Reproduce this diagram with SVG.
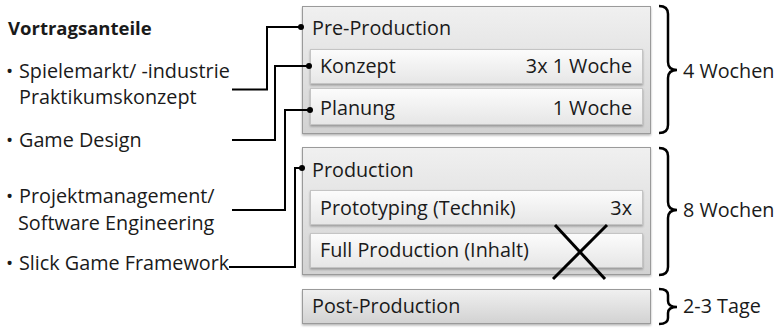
<svg xmlns="http://www.w3.org/2000/svg" width="781" height="328" viewBox="0 0 781 328">
<style>
text{font-family:"Open Sans","Liberation Sans",sans-serif;font-size:19.8px;fill:#1a1a1a}
.b{font-weight:bold;font-size:18.5px}
.bul{font-size:19px}
.outer{fill:url(#gOuter);stroke:#9a9a9a;stroke-width:1}
.inner{fill:url(#gInner);stroke:#c4c4c4;stroke-width:1}
.conn{fill:none;stroke:#000;stroke-width:2}
.br{fill:none;stroke:#000;stroke-width:2.5}
.x{stroke:#000;stroke-width:3}
</style>
<defs>
<linearGradient id="gOuter" x1="0" y1="0" x2="0" y2="1">
<stop offset="0" stop-color="#f0f0f0"/><stop offset="1" stop-color="#d2d2d2"/>
</linearGradient>
<linearGradient id="gInner" x1="0" y1="0" x2="0" y2="1">
<stop offset="0" stop-color="#fcfcfc"/><stop offset="1" stop-color="#e6e6e6"/>
</linearGradient>
<filter id="sh" x="-5%" y="-10%" width="110%" height="130%">
<feDropShadow dx="0" dy="1.5" stdDeviation="1.2" flood-color="#000" flood-opacity="0.3"/>
</filter>
</defs>

<g id="legend">
<text class="b" x="8" y="35">Vortragsanteile</text>
<text class="bul" x="6" y="78">•</text><text x="19" y="78">Spielemarkt/ -industrie</text>
<text x="19" y="104">Praktikumskonzept</text>
<text class="bul" x="6" y="147">•</text><text x="19" y="147">Game Design</text>
<text class="bul" x="6" y="203">•</text><text x="19" y="203">Projektmanagement/</text>
<text x="18" y="230">Software Engineering</text>
<text class="bul" x="6" y="270">•</text><text x="19" y="270">Slick Game Framework</text>
</g>

<g id="pre-production">
<rect class="outer" x="302.5" y="6.5" width="348" height="127" filter="url(#sh)"/>
<text x="312" y="35">Pre-Production</text>
</g>
<g id="konzept">
<rect class="inner" x="310.5" y="49.5" width="332" height="34" filter="url(#sh)"/>
<text x="320" y="73">Konzept</text>
<text x="632" y="73" text-anchor="end">3x 1 Woche</text>
</g>
<g id="planung">
<rect class="inner" x="310.5" y="88.5" width="332" height="36" filter="url(#sh)"/>
<text x="320" y="115">Planung</text>
<text x="632" y="115" text-anchor="end">1 Woche</text>
</g>

<g id="production">
<rect class="outer" x="302.5" y="147.5" width="348" height="127" filter="url(#sh)"/>
<text x="312" y="177">Production</text>
</g>
<g id="prototyping">
<rect class="inner" x="310.5" y="190.5" width="332" height="34" filter="url(#sh)"/>
<text x="320" y="215">Prototyping (Technik)</text>
<text x="632" y="215" text-anchor="end">3x</text>
</g>
<g id="full-production">
<rect class="inner" x="310.5" y="233.5" width="332" height="34" filter="url(#sh)"/>
<text x="320" y="257">Full Production (Inhalt)</text>
</g>

<g id="post-production">
<rect class="outer" x="302.5" y="289.5" width="348" height="34" filter="url(#sh)"/>
<text x="312" y="313">Post-Production</text>
</g>

<g id="cross">
<line class="x" x1="553" y1="279" x2="607" y2="225"/>
<line class="x" x1="555" y1="225" x2="605" y2="279"/>
</g>

<g id="brackets">
<path class="br" d="M659,6 Q668,6 668,14 V62 Q668,70 677,70 Q668,70 668,78 V125 Q668,133 659,133"/>
<path class="br" d="M659,148 Q668,148 668,156 V202 Q668,210 677,210 Q668,210 668,218 V267 Q668,275 659,275"/>
<path class="br" d="M659,289 Q668,289 668,295 V301 Q668,307 677,307 Q668,307 668,313 V318 Q668,324 659,324"/>
<text x="683" y="78">4 Wochen</text>
<text x="683" y="217">8 Wochen</text>
<text x="683" y="313">2-3 Tage</text>
</g>

<g id="connectors">
<polyline class="conn" points="232,89.5 267,89.5 267,27 301,27"/>
<circle cx="301" cy="27" r="3"/>
<polyline class="conn" points="232,140 275,140 275,66 309,66"/>
<circle cx="309" cy="66" r="3"/>
<polyline class="conn" points="232,210 285,210 285,110 310,110"/>
<circle cx="310" cy="110" r="3"/>
<polyline class="conn" points="229,267 295,267 295,168 302,168"/>
<circle cx="302" cy="168" r="3"/>
</g>
</svg>
